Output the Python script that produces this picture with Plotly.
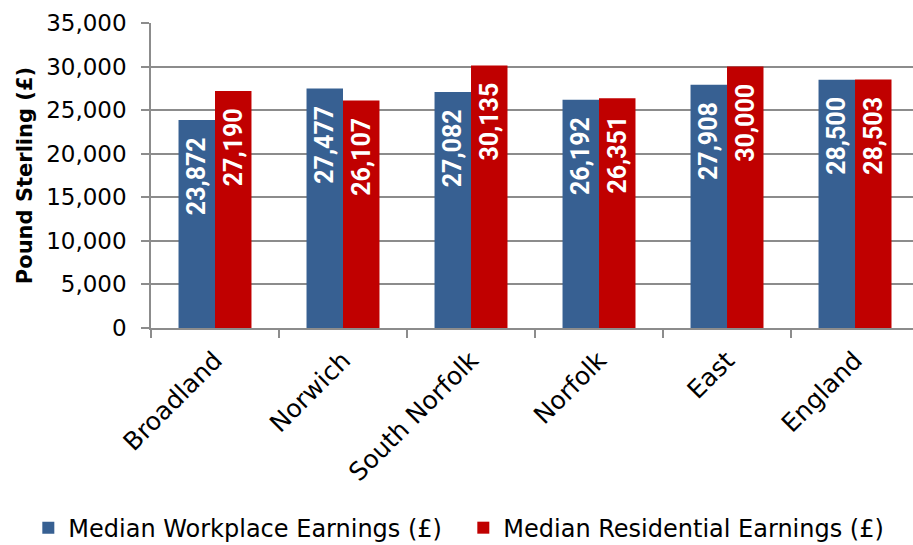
import plotly.graph_objects as go

categories = ["Broadland", "Norwich", "South Norfolk", "Norfolk", "East", "England"]
workplace = [23872, 27477, 27082, 26192, 27908, 28500]
residential = [27190, 26107, 30135, 26351, 30000, 28503]
series_names = ["Median Workplace Earnings (£)", "Median Residential Earnings (£)"]
y_ticks = [0, 5000, 10000, 15000, 20000, 25000, 30000, 35000]

BLUE = "#376092"
RED = "#C00000"
GRID = "#8C8C8C"
FONT = "DejaVu Sans"

label_font = dict(family="Roboto", size=25, color="white", weight="bold")
tmpl = "<b>%{y:,.0f}</b><span style='color:rgba(0,0,0,0)'>0</span>"

fig = go.Figure()
for name, vals, col in [(series_names[0], workplace, BLUE), (series_names[1], residential, RED)]:
    fig.add_trace(go.Bar(
        x=categories, y=vals, name=name,
        marker=dict(color=col, line=dict(width=0)),
        texttemplate=tmpl, textposition="inside", textangle=-90,
        insidetextanchor="end", insidetextfont=label_font,
        constraintext="none", cliponaxis=False,
    ))

fig.update_layout(
    width=913, height=545,
    margin=dict(l=151, r=0, t=23, b=217, autoexpand=False),
    paper_bgcolor="white", plot_bgcolor="white",
    barmode="group", bargap=0.43, bargroupgap=0,
    font=dict(family=FONT, size=22, color="#000000"),
    showlegend=True,
    legend=dict(orientation="h", xref="paper", x=-0.161, xanchor="left",
                yref="paper", y=-0.656, yanchor="middle",
                font=dict(family=FONT, size=24, color="#000000"),
                itemwidth=30, tracegroupgap=0,
                entrywidth=390, entrywidthmode="pixels",
                bgcolor="rgba(0,0,0,0)"),
)

fig.update_xaxes(
    type="category", range=[-0.5, 5.453], automargin=False,
    showline=True, linecolor=GRID, linewidth=1.5,
    ticks="outside", tickson="boundaries", ticklen=8, tickcolor=GRID, tickwidth=1.5,
    tickangle=-45, tickfont=dict(family=FONT, size=25, color="#000000"),
    ticklabelstandoff=6,
    showgrid=False, zeroline=False,
)
fig.update_yaxes(
    range=[0, 35000], tickvals=y_ticks, tickformat=",", automargin=False,
    showline=True, linecolor=GRID, linewidth=1.5,
    ticks="outside", ticklen=8, tickcolor=GRID, tickwidth=1.5,
    showgrid=True, gridcolor=GRID, gridwidth=1.5, zeroline=False,
    tickfont=dict(family=FONT, size=23, color="#000000"),
    ticklabelstandoff=10,
    title=dict(text="<b>Pound Sterling (£)</b>", font=dict(family=FONT, size=21, color="#000000"), standoff=8),
)

fig.write_html("out.html", config={"displayModeBar": False},
               post_script="document.body.style.margin='0';")
